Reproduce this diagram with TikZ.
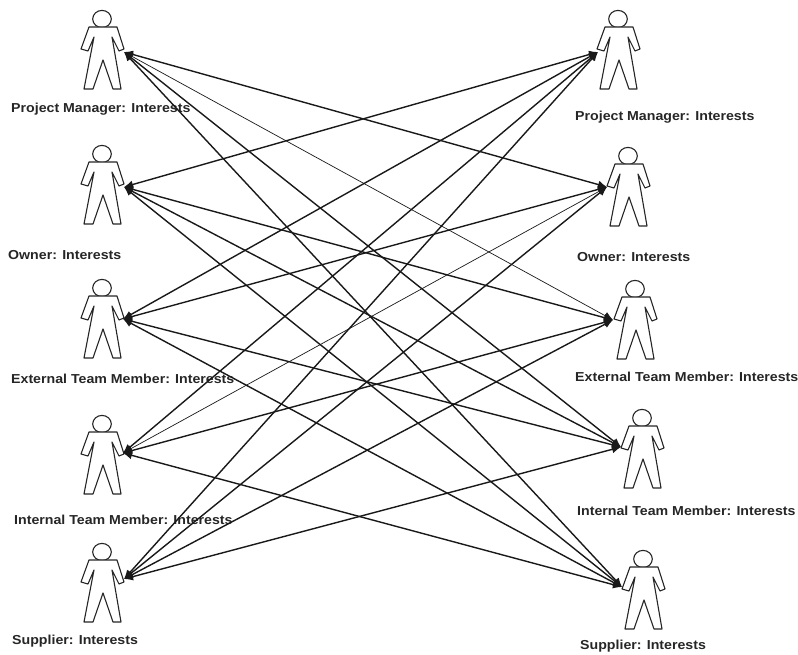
\documentclass[tikz,border=0pt]{standalone}
\usepackage{fontspec}
\setmainfont[FakeStretch=1.09]{Liberation Sans}
\usetikzlibrary{arrows.meta}
\tikzset{
  x=1pt,y=-1pt,
  actorline/.style={draw=black!85,line width=1.1pt,line join=round,fill=white},
  lbl/.style={inner sep=0pt,anchor=west,font=\bfseries\fontsize{13}{15}\selectfont,text=black!85},
  link/.style={line width=1.4pt,draw=black!90,{Latex[length=9pt,width=8pt]}-{Latex[length=9pt,width=8pt]}},
  thinlink/.style={link,line width=.7pt},
  actor/.pic={
    \draw[actorline] (0,0) ellipse (9.3 and 8.6);
    \draw[actorline] (-13,8) -- (-21,30) -- (-14,32) -- (-8,18) -- (-18,70) -- (-9,70) -- (1,41) -- (11,70) -- (19,70) -- (10,18) -- (17,32) -- (22,30) -- (15,8) -- cycle;
  }
}
\begin{document}
\begin{tikzpicture}
\useasboundingbox (0,0) rectangle (798,655);
\pic at (102,19) {actor};
\pic at (102,154) {actor};
\pic at (102,288) {actor};
\pic at (102,424) {actor};
\pic at (102,552) {actor};
\pic at (618,19) {actor};
\pic at (628,156) {actor};
\pic at (635,289) {actor};
\pic at (642,418) {actor};
\pic at (643,559) {actor};
\node[lbl] (lt1) at (11,109) {Project Manager: Interests};
\node[lbl] (lt2) at (8,255) {Owner: Interests};
\node[lbl] (lt3) at (11,379) {External Team Member: Interests};
\node[lbl] (lt4) at (14,520) {Internal Team Member: Interests};
\node[lbl] (lt5) at (12,641) {Supplier: Interests};
\node[lbl] (rt1) at (575,117) {Project Manager: Interests};
\node[lbl] (rt2) at (577,257) {Owner: Interests};
\node[lbl] (rt3) at (575,377) {External Team Member: Interests};
\node[lbl] (rt4) at (577,511) {Internal Team Member: Interests};
\node[lbl] (rt5) at (580,646) {Supplier: Interests};
\coordinate (l1) at (124,52);
\coordinate (l2) at (124,187);
\coordinate (l3) at (123,319);
\coordinate (l4) at (123,453);
\coordinate (l5) at (124,579);
\coordinate (r1) at (598,52);
\coordinate (r2) at (607,187);
\coordinate (r3) at (613,320);
\coordinate (r4) at (621,447);
\coordinate (r5) at (622,587);
\foreach \a/\b in {1/2,1/4,1/5,2/1,2/3,2/4,2/5,3/1,3/2,3/4,3/5,4/1,4/3,4/5,5/1,5/2,5/3,5/4}
  \draw[link] (l\a) -- (r\b);
\draw[thinlink] (l1) -- (r3);
\draw[thinlink] (l4) -- (r2);
\end{tikzpicture}
\end{document}
